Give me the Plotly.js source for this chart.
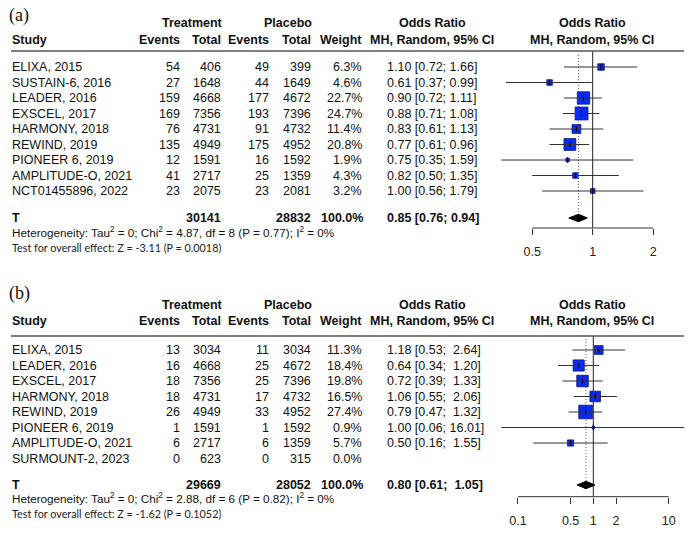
<!DOCTYPE html>
<html><head><meta charset="utf-8">
<script src="https://cdn.plot.ly/plotly-3.0.1.min.js"></script>
<style>html,body{margin:0;padding:0;background:#fff}</style>
</head><body><div id="chart" style="width:690px;height:533px"></div>
<script>
// ---------- Panel (a) data ----------
const studiesA = ['ELIXA, 2015','SUSTAIN-6, 2016','LEADER, 2016','EXSCEL, 2017','HARMONY, 2018','REWIND, 2019','PIONEER 6, 2019','AMPLITUDE-O, 2021','NCT01455896, 2022'];
const trtEventsA = [54,27,159,169,76,135,12,41,23];
const trtTotalA  = [406,1648,4668,7356,4731,4949,1591,2717,2075];
const plcEventsA = [49,44,177,193,91,175,16,25,23];
const plcTotalA  = [399,1649,4672,7396,4732,4952,1592,1359,2081];
const weightA    = [6.3,4.6,22.7,24.7,11.4,20.8,1.9,4.3,3.2];
const orA        = [1.10,0.61,0.90,0.88,0.83,0.77,0.75,0.82,1.00];
const loA        = [0.72,0.37,0.72,0.71,0.61,0.61,0.35,0.50,0.56];
const hiA        = [1.66,0.99,1.11,1.08,1.13,0.96,1.59,1.35,1.79];
const pooledA    = [0.85,0.76,0.94];
const totalsA    = [30141,28832];
const hetA  = 'Heterogeneity: Tau<sup>2</sup> = 0; Chi<sup>2</sup> = 4.87, df = 8 (P = 0.77); I<sup>2</sup> = 0%';
const testA = 'Test for overall effect: Z = -3.11 (P = 0.0018)';
const ticksA = [0.5,1,2];

// ---------- Panel (b) data ----------
const studiesB = ['ELIXA, 2015','LEADER, 2016','EXSCEL, 2017','HARMONY, 2018','REWIND, 2019','PIONEER 6, 2019','AMPLITUDE-O, 2021','SURMOUNT-2, 2023'];
const trtEventsB = [13,16,18,18,26,1,6,0];
const trtTotalB  = [3034,4668,7356,4731,4949,1591,2717,623];
const plcEventsB = [11,25,25,17,33,1,6,0];
const plcTotalB  = [3034,4672,7396,4732,4952,1592,1359,315];
const weightB    = [11.3,18.4,19.8,16.5,27.4,0.9,5.7,0.0];
const orB        = [1.18,0.64,0.72,1.06,0.79,1.00,0.50,null];
const loB        = [0.53,0.34,0.39,0.55,0.47,0.06,0.16,null];
const hiB        = [2.64,1.20,1.33,2.06,1.32,16.01,1.55,null];
const pooledB    = [0.80,0.61,1.05];
const totalsB    = [29669,28052];
const hetB  = 'Heterogeneity: Tau<sup>2</sup> = 0; Chi<sup>2</sup> = 2.88, df = 6 (P = 0.82); I<sup>2</sup> = 0%';
const testB = 'Test for overall effect: Z = -1.62 (P = 0.1052)';
const ticksB = [0.1,0.5,1,2,10];

// ---------- layout constants ----------
const W = 690, H = 533;
const FONT = 'Liberation Sans, Arial, sans-serif';
const TXT = '#111';
const NB = '\u00a0';
const COL = {study:11, te:181, tt:222, pe:270, pt:312, w:363, orL:386, orC:432, plotC:592};

const panels = [
  {label:'(a)', studies:studiesA, te:trtEventsA, tt:trtTotalA, pe:plcEventsA, pt:plcTotalA, w:weightA,
   or:orA, lo:loA, hi:hiA, pooled:pooledA, totals:totalsA, het:hetA, test:testA, ticks:ticksA,
   xa:'x', ya:'y', row0:67, step:15.5, top:0, bot:266, one:592.7, dec:200.98,
   pos:{lab:15, h1:23, h2:40, rule:51, dot:55, total:218, het:232, test:247, axis:228}},
  {label:'(b)', studies:studiesB, te:trtEventsB, tt:trtTotalB, pe:plcEventsB, pt:plcTotalB, w:weightB,
   or:orB, lo:loB, hi:hiB, pooled:pooledB, totals:totalsB, het:hetB, test:testB, ticks:ticksB,
   xa:'x2', ya:'y2', row0:350, step:15.5, top:266, bot:533, one:593.3, dec:75.4,
   pos:{lab:293, h1:305, h2:321, rule:336, dot:339, total:485, het:498, test:513, axis:496.7}}
];

function fmtCI(o, l, h, width){
  let hs = h.toFixed(2);
  while (hs.length < width) hs = NB + hs;
  return o.toFixed(2) + ' [' + l.toFixed(2) + ';' + NB + hs + ']';
}
function A(text, xpx, row, yref, xanchor, font){
  return {text:text, x:xpx/W, xref:'paper', y:row, yref:yref, xanchor:xanchor, yanchor:'middle',
          showarrow:false, borderpad:0, align:xanchor==='right'?'right':'left',
          font:Object.assign({family:FONT, size:12.5, color:TXT}, font||{})};
}

const traces = [], annotations = [], shapes = [];
const layout = {
  width:W, height:H, margin:{l:0,r:0,t:0,b:0}, paper_bgcolor:'#fff', plot_bgcolor:'rgba(0,0,0,0)',
  showlegend:false, hovermode:false
};

panels.forEach((p, k) => {
  const R = px => (px - p.row0) / p.step;
  const yr = p.ya;
  const his = p.hi.filter(v => v != null).map(v => v.toFixed(2).length);
  const width = Math.max(...his, p.pooled[2].toFixed(2).length);
  const rows = p.studies.map((s, i) => i);
  const ruleRow = R(p.pos.rule), axisRow = R(p.pos.axis), totRow = R(p.pos.total);

  // headers
  annotations.push(A(p.label, 8, R(p.pos.lab), yr, 'left', {family:'Liberation Serif, Times New Roman, serif', size:18}));
  annotations.push(A('<b>Treatment</b>', 192, R(p.pos.h1), yr, 'center'));
  annotations.push(A('<b>Placebo</b>', 288, R(p.pos.h1), yr, 'center'));
  annotations.push(A('<b>Odds Ratio</b>', COL.orC, R(p.pos.h1), yr, 'center'));
  annotations.push(A('<b>Odds Ratio</b>', COL.plotC, R(p.pos.h1), yr, 'center'));
  annotations.push(A('<b>Study</b>', COL.study, R(p.pos.h2), yr, 'left'));
  annotations.push(A('<b>Events</b>', COL.te, R(p.pos.h2), yr, 'right'));
  annotations.push(A('<b>Total</b>', COL.tt, R(p.pos.h2), yr, 'right'));
  annotations.push(A('<b>Events</b>', COL.pe, R(p.pos.h2), yr, 'right'));
  annotations.push(A('<b>Total</b>', COL.pt, R(p.pos.h2), yr, 'right'));
  annotations.push(A('<b>Weight</b>', COL.w, R(p.pos.h2), yr, 'right'));
  annotations.push(A('<b>MH, Random, 95% CI</b>', COL.orC, R(p.pos.h2), yr, 'center'));
  annotations.push(A('<b>MH, Random, 95% CI</b>', COL.plotC, R(p.pos.h2), yr, 'center'));

  // header rule
  shapes.push({type:'line', xref:'paper', x0:11/W, x1:684/W, yref:yr, y0:ruleRow, y1:ruleRow,
               line:{color:'#555', width:1.6}});

  // study rows
  rows.forEach(i => {
    annotations.push(A(p.studies[i], COL.study, i, yr, 'left'));
    annotations.push(A(String(p.te[i]), COL.te, i, yr, 'right'));
    annotations.push(A(String(p.tt[i]), COL.tt, i, yr, 'right'));
    annotations.push(A(String(p.pe[i]), COL.pe, i, yr, 'right'));
    annotations.push(A(String(p.pt[i]), COL.pt, i, yr, 'right'));
    annotations.push(A(p.w[i].toFixed(1) + '%', COL.w, i, yr, 'right'));
    if (p.or[i] != null) annotations.push(A(fmtCI(p.or[i], p.lo[i], p.hi[i], width), COL.orL, i, yr, 'left'));
  });

  // total row
  const wsum = p.w.reduce((a,b)=>a+b,0);
  annotations.push(A('<b>T</b>', COL.study, totRow, yr, 'left'));
  annotations.push(A('<b>' + p.totals[0] + '</b>', COL.tt, totRow, yr, 'right'));
  annotations.push(A('<b>' + p.totals[1] + '</b>', COL.pt, totRow, yr, 'right'));
  annotations.push(A('<b>' + Math.round(wsum).toFixed(1) + '%</b>', COL.w + 0.5, totRow, yr, 'right'));
  annotations.push(A('<b>' + fmtCI(p.pooled[0], p.pooled[1], p.pooled[2], width) + '</b>', COL.orL, totRow, yr, 'left'));
  annotations.push(A(p.het, COL.study, R(p.pos.het), yr, 'left', {size:11.7}));
  annotations.push(A(p.test, COL.study, R(p.pos.test), yr, 'left', {family:'Lato, sans-serif', size:10.8, color:'#222'}));

  // reference lines
  traces.push({type:'scatter', mode:'lines', xaxis:p.xa, yaxis:p.ya, x:[1,1], y:[ruleRow, axisRow],
               line:{color:'#222', width:1}, hoverinfo:'skip'});
  traces.push({type:'scatter', mode:'lines', xaxis:p.xa, yaxis:p.ya, x:[p.pooled[0], p.pooled[0]],
               y:[R(p.pos.dot), totRow], line:{color:'#777', width:1.2, dash:'1px,2px'}, hoverinfo:'skip'});

  // squares
  const idx = rows.filter(i => p.or[i] != null);
  traces.push({type:'scatter', mode:'markers', xaxis:p.xa, yaxis:p.ya,
               x:idx.map(i=>p.or[i]), y:idx,
               marker:{symbol:'square', opacity:1, size:idx.map(i=>2.6*Math.sqrt(p.w[i])), color:'#0a2af2',
                       line:{color:'#0a1680', width:0.8}}, hoverinfo:'skip'});
  // CI lines
  const cx = [], cy = [];
  idx.forEach(i => { cx.push(p.lo[i], p.hi[i], null); cy.push(i, i, null); });
  traces.push({type:'scatter', mode:'lines', xaxis:p.xa, yaxis:p.ya, x:cx, y:cy,
               line:{color:'#333', width:1}, hoverinfo:'skip', connectgaps:false});
  // point ticks
  traces.push({type:'scatter', mode:'markers', xaxis:p.xa, yaxis:p.ya, x:idx.map(i=>p.or[i]), y:idx,
               marker:{symbol:'line-ns', size:4, opacity:1, line:{color:'#000', width:1}}, hoverinfo:'skip'});
  // diamond
  const dh = 0.24;
  traces.push({type:'scatter', mode:'lines', xaxis:p.xa, yaxis:p.ya,
               x:[p.pooled[1], p.pooled[0], p.pooled[2], p.pooled[0], p.pooled[1]],
               y:[totRow, totRow-dh, totRow, totRow+dh, totRow],
               fill:'toself', fillcolor:'#000', line:{color:'#000', width:1}, hoverinfo:'skip'});
  // axis line
  traces.push({type:'scatter', mode:'lines', xaxis:p.xa, yaxis:p.ya,
               x:[p.ticks[0], p.ticks[p.ticks.length-1]], y:[axisRow, axisRow],
               line:{color:'#333', width:1}, hoverinfo:'skip'});

  const xk = k === 0 ? 'xaxis' : 'xaxis2';
  const yk = k === 0 ? 'yaxis' : 'yaxis2';
  layout[xk] = {domain:[500/W, 686/W], type:'log', range:[(500-p.one)/p.dec, (686-p.one)/p.dec],
                anchor:'free', position:1 - p.pos.axis/H, tickvals:p.ticks, ticktext:p.ticks.map(String),
                ticks:'outside', ticklen:6, tickwidth:1, tickcolor:'#333', showline:false, showgrid:false,
                zeroline:false, tickfont:{family:FONT, size:12.5, color:'#222'}, ticklabelstandoff:6, fixedrange:true};
  layout[yk] = {domain:[1 - p.bot/H, 1 - p.top/H], range:[(p.bot-p.row0)/p.step, (p.top-p.row0)/p.step],
                visible:false, fixedrange:true};
});

layout.annotations = annotations;
layout.shapes = shapes;
Plotly.newPlot('chart', traces, layout, {staticPlot:true, displayModeBar:false});
</script></body></html>
